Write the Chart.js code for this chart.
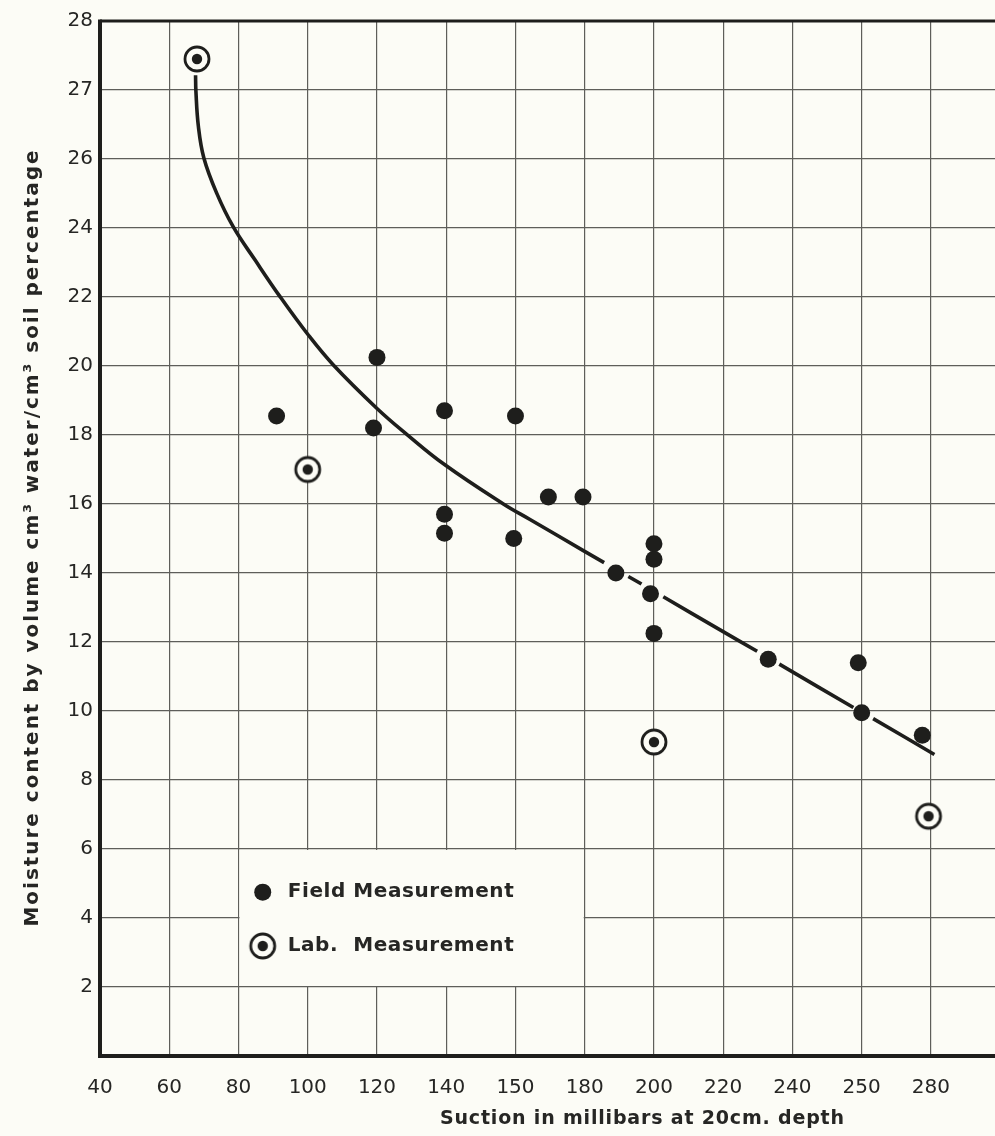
<!DOCTYPE html>
<html>
<head>
<meta charset="utf-8">
<script src="https://cdn.jsdelivr.net/npm/chart.js@4.4.1/dist/chart.umd.min.js"></script>
<style>
  html, body { margin: 0; padding: 0; background: #fcfcf6; }
  #chart { display: block; }
</style>
</head>
<body>
<canvas id="chart" width="995" height="1136"></canvas>
<script>
// tick labels exactly as printed on the figure (grid is 20 mb / 2 % per cell)
const xTickLabels = ['40', '60', '80', '100', '120', '140', '150', '180', '200', '220', '240', '250', '280'];
const yTickLabels = ['', '2', '4', '6', '8', '10', '12', '14', '16', '18', '20', '22', '24', '26', '27', '28'];

// field measurements (x = suction on grid scale, y = moisture on grid scale)
const fieldX = [91, 119, 120, 139.5, 139.5, 139.5, 160, 159.5, 169.5, 179.5, 189, 200, 200, 199, 200, 233, 259, 260, 277.5];
const fieldY = [18.55, 18.2, 20.25, 18.7, 15.7, 15.15, 18.55, 15.0, 16.2, 16.2, 14.0, 14.85, 14.4, 13.4, 12.25, 11.5, 11.4, 9.95, 9.3];

// lab measurements
const labX = [68, 100, 200, 279.3];
const labY = [28.9, 17.0, 9.1, 6.95];

// fitted curve
const curveX = [67.6, 67.7, 68.4, 70.0, 73.7, 78.5, 84.8, 92, 100, 107.4, 120, 128.6, 139.4, 156.5, 164.2, 179.6, 185.6, 192.6, 196.4, 202.7, 219.1, 229.8, 236.2, 257.6, 263.3, 281];
const curveY = [28.43, 27.97, 26.96, 26.03, 25.01, 24.03, 23.07, 22.01, 20.92, 20.03, 18.77, 18.02, 17.15, 16.0, 15.55, 14.65, 14.3, 13.9, 13.68, 13.31, 12.35, 11.73, 11.36, 10.1, 9.78, 8.74];
// the line is broken around the dots it passes through
const curveBreaks = [185.6, 196.4, 229.8, 257.6];

const INK = '#1e1e1c';
const TEXT = '#262624';
const PAPER = '#fcfcf6';
const FONT = "'DejaVu Sans', sans-serif";

function labMarker() {
    const c = document.createElement('canvas');
    c.width = 32; c.height = 32;
    const g = c.getContext('2d');
    g.fillStyle = PAPER;
    g.beginPath(); g.arc(16, 16, 12, 0, Math.PI * 2); g.fill();
    g.lineWidth = 2.8; g.strokeStyle = INK; g.stroke();
    g.fillStyle = INK;
    g.beginPath(); g.arc(16, 16, 5.2, 0, Math.PI * 2); g.fill();
    return c;
}
const labImg = labMarker();

function spacedText(ctx, text, x, y, width) {
    // spread letters so the string fills the given width
    ctx.letterSpacing = '0px';
    const w = ctx.measureText(text).width;
    const sp = (width - w) / (text.length - 1);
    ctx.letterSpacing = sp + 'px';
    ctx.fillText(text, x - width / 2, y);
    ctx.letterSpacing = '0px';
}

const paperPlugin = {
    id: 'paper',
    beforeDraw(chart) {
        const ctx = chart.ctx;
        ctx.save();
        ctx.fillStyle = PAPER;
        ctx.fillRect(0, 0, chart.width, chart.height);
        ctx.restore();
    },
    beforeDatasetsDraw(chart) {
        const { ctx, chartArea: a, scales: { x, y } } = chart;
        ctx.save();
        // blank box behind the key
        const bx0 = x.getPixelForValue(80) + 1, bx1 = x.getPixelForValue(180) - 1;
        const by0 = y.getPixelForValue(6) + 1, by1 = y.getPixelForValue(2) - 1;
        ctx.fillStyle = PAPER;
        ctx.fillRect(bx0, by0, bx1 - bx0, by1 - by0);
        // heavy frame left, top, bottom
        ctx.strokeStyle = INK;
        ctx.lineWidth = 3;
        ctx.beginPath();
        ctx.moveTo(chart.width, a.top); ctx.lineTo(a.left, a.top);
        ctx.stroke();
        ctx.lineWidth = 4;
        ctx.beginPath();
        ctx.moveTo(a.left, a.top - 1.5); ctx.lineTo(a.left, a.bottom);
        ctx.lineTo(chart.width, a.bottom);
        ctx.stroke();
        ctx.restore();
    },
    afterDraw(chart) {
        const { ctx, chartArea: a, scales: { x, y } } = chart;
        ctx.save();
        ctx.textBaseline = 'middle';
        // key
        const kx = x.getPixelForValue(87);
        const ky1 = y.getPixelForValue(4.75), ky2 = y.getPixelForValue(3.19);
        ctx.fillStyle = INK;
        ctx.beginPath(); ctx.arc(kx, ky1, 8.5, 0, Math.PI * 2); ctx.fill();
        ctx.drawImage(labImg, kx - 16, ky2 - 16);
        ctx.fillStyle = TEXT;
        ctx.font = 'bold 20px ' + FONT;
        ctx.textAlign = 'left';
        spacedText(ctx, 'Field Measurement', kx + 25 + 113, ky1, 226);
        spacedText(ctx, 'Lab.  Measurement', kx + 25 + 113, ky2, 226);
        // axis titles
        ctx.font = 'bold 19px ' + FONT;
        spacedText(ctx, 'Suction in millibars at 20cm. depth', 642, 1119, 404);
        ctx.font = 'bold 20px ' + FONT;
        ctx.translate(33, (a.top + a.bottom) / 2);
        ctx.rotate(-Math.PI / 2);
        spacedText(ctx, 'Moisture content by volume cm\u00b3 water/cm\u00b3 soil percentage', 0, 0, 776);
        ctx.restore();
    }
};

new Chart(document.getElementById('chart'), {
    type: 'scatter',
    data: {
        datasets: [{
            label: 'Curve',
            data: curveX.map((v, i) => ({ x: v, y: curveY[i] })),
            showLine: true,
            borderColor: INK,
            borderWidth: 3.6,
            pointRadius: 0,
            tension: 0.4,
            segment: {
                borderColor: s => curveBreaks.includes(s.p0.parsed.x) ? 'rgba(0,0,0,0)' : INK
            }
        }, {
            label: 'Field Measurement',
            data: fieldX.map((v, i) => ({ x: v, y: fieldY[i] })),
            pointStyle: 'circle',
            pointRadius: 8.5,
            backgroundColor: INK,
            borderWidth: 0
        }, {
            label: 'Lab. Measurement',
            data: labX.map((v, i) => ({ x: v, y: labY[i] })),
            pointStyle: labImg,
            pointRadius: 12
        }]
    },
    options: {
        responsive: false,
        animation: false,
        layout: { autoPadding: false, padding: { top: 21, right: 0, left: 0, bottom: 0 } },
        plugins: {
            legend: { display: false },
            tooltip: { enabled: false }
        },
        scales: {
            x: {
                type: 'linear',
                min: 40,
                max: 298.5,
                afterFit: s => { s.height = 80; s.paddingRight = 0; },
                afterBuildTicks: s => { s.ticks = xTickLabels.map((_, i) => ({ value: 40 + 20 * i })); },
                ticks: {
                    padding: 20,
                    color: TEXT,
                    font: { family: FONT, size: 20 },
                    maxRotation: 0,
                    autoSkip: false,
                    callback: (v, i) => xTickLabels[i] ?? ''
                },
                grid: { color: '#5e5e5a', lineWidth: 1.2, drawTicks: false },
                border: { display: false }
            },
            y: {
                type: 'linear',
                min: 0,
                max: 30,
                afterFit: s => { s.width = 100; },
                ticks: {
                    stepSize: 2,
                    padding: 7,
                    color: TEXT,
                    font: { family: FONT, size: 20 },
                    autoSkip: false,
                    callback: v => yTickLabels[v / 2] ?? ''
                },
                grid: { color: '#5e5e5a', lineWidth: 1.2, drawTicks: false },
                border: { display: false }
            }
        }
    },
    plugins: [paperPlugin]
});
</script>
</body>
</html>
